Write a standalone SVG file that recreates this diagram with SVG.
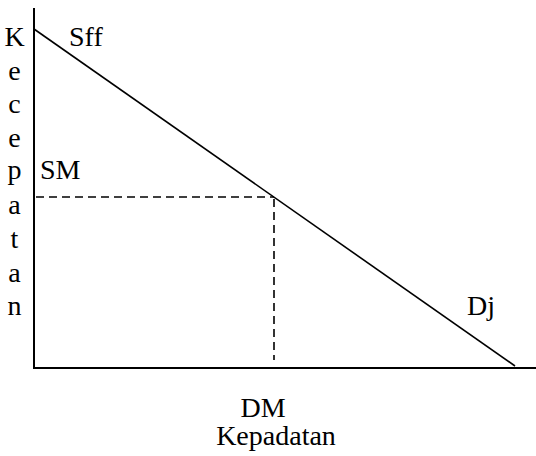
<svg xmlns="http://www.w3.org/2000/svg" width="536" height="456" viewBox="0 0 536 456">
<style>
text{font-family:'Liberation Serif','Times New Roman','DejaVu Serif',serif;font-size:28px;fill:#000}
.ax{stroke:#000;stroke-width:2;fill:none}
.ln{stroke:#000;stroke-width:1.6;fill:none}
.dash{stroke:#000;stroke-width:1.6;fill:none;stroke-dasharray:8 5}
</style>
<rect width="536" height="456" fill="#fff"/>
<g id="connectors">
<line class="ax" x1="34" y1="8" x2="34" y2="369"/>
<line class="ax" x1="33" y1="368" x2="536" y2="368"/>
<line class="ln" x1="34" y1="29" x2="515" y2="366"/>
<line class="dash" x1="36" y1="197" x2="274" y2="197"/>
<line class="dash" x1="274" y1="199" x2="274" y2="360"/>
</g>
<g id="y-label" text-anchor="middle">
<text x="14.5" y="46">K</text>
<text x="14.5" y="80">e</text>
<text x="14.5" y="113">c</text>
<text x="14.5" y="147">e</text>
<text x="14.5" y="179">p</text>
<text x="14.5" y="214">a</text>
<text x="14.5" y="248">t</text>
<text x="14.5" y="282">a</text>
<text x="14.5" y="315">n</text>
</g>
<g id="sff"><text x="69" y="46">Sff</text></g>
<g id="sm"><text x="40" y="179">SM</text></g>
<g id="dj"><text x="467" y="315">Dj</text></g>
<g id="dm"><text x="263" y="417" text-anchor="middle">DM</text></g>
<g id="x-label"><text x="276" y="445" text-anchor="middle">Kepadatan</text></g>
</svg>
